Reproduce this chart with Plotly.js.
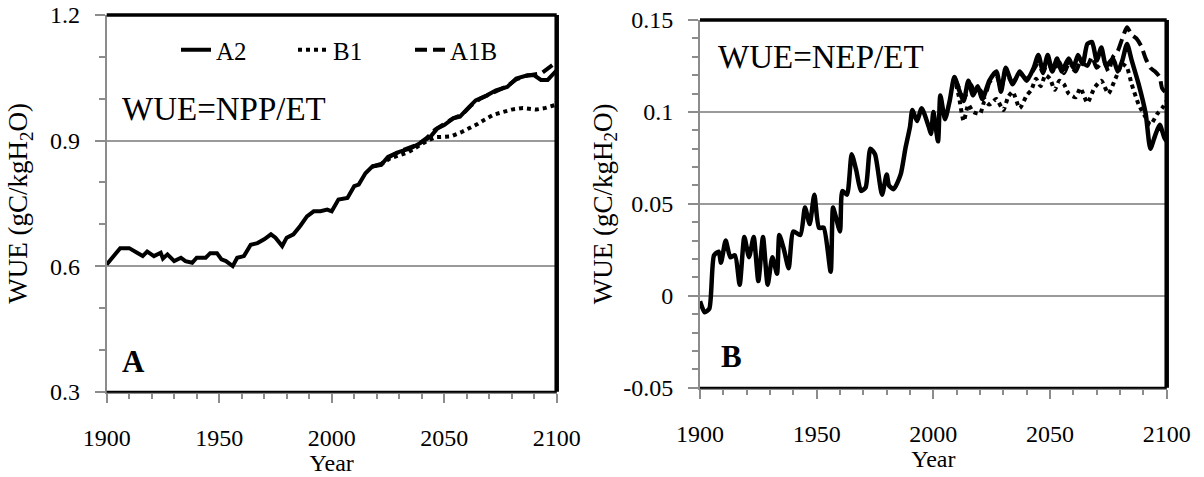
<!DOCTYPE html>
<html>
<head>
<meta charset="utf-8">
<script src="https://cdn.plot.ly/plotly-3.0.1.min.js"></script>
<style>html,body{margin:0;padding:0;background:#fff;}#chart{width:1204px;height:477px;}</style>
</head>
<body>
<div id="chart"></div>
<script>
// ---------- Panel A : WUE = NPP/ET ----------
const yearsA2_A = [1900,1903,1906,1910,1912,1916,1918,1921,1924,1925,1927,1930,1933,1935,1938,1940,1944,1946,1949,1951,1953,1956,1958,1961,1964,1967,1970,1973,1975,1978,1980,1983,1986,1989,1992,1995,1998,2000,2003,2007,2010,2012,2015,2018,2022,2025,2030,2035,2039,2044,2047,2050,2054,2057,2061,2064,2069,2073,2078,2082,2087,2090,2093,2096,2100];
const A2_A = [0.604,0.625,0.643,0.643,0.636,0.624,0.635,0.624,0.632,0.618,0.628,0.612,0.620,0.612,0.608,0.620,0.620,0.631,0.631,0.616,0.612,0.600,0.620,0.624,0.651,0.655,0.664,0.676,0.668,0.648,0.668,0.676,0.696,0.719,0.731,0.731,0.735,0.731,0.759,0.763,0.791,0.795,0.822,0.838,0.842,0.861,0.873,0.881,0.893,0.910,0.929,0.937,0.953,0.957,0.980,0.996,1.008,1.020,1.028,1.048,1.056,1.056,1.045,1.045,1.068];

const yearsB1_A = [2018,2022,2026,2030,2034,2038,2042,2046,2050,2053,2058,2062,2065,2068,2072,2076,2080,2085,2088,2091,2095,2100];
const B1_A = [0.838,0.843,0.858,0.866,0.872,0.885,0.898,0.908,0.908,0.910,0.921,0.931,0.940,0.950,0.962,0.968,0.974,0.978,0.976,0.974,0.978,0.986];

const yearsA1B_A = [2018,2022,2026,2030,2034,2038,2042,2046,2050,2054,2058,2062,2066,2070,2074,2078,2082,2086,2090,2093,2096,2100];
const A1B_A = [0.838,0.844,0.862,0.874,0.882,0.890,0.905,0.926,0.940,0.953,0.962,0.984,1.000,1.010,1.021,1.030,1.046,1.054,1.058,1.060,1.072,1.088];

// ---------- Panel B : WUE = NEP/ET ----------
const yearsA2_B = [1900,1902,1904,1906,1908,1909,1911,1913,1915,1917,1919,1921,1923,1925,1927,1929,1931,1933,1934,1936,1938,1940,1943,1945,1947,1949,1951,1953,1956,1957,1958,1960,1961,1963,1965,1967,1969,1971,1973,1975,1978,1980,1981,1983,1986,1988,1990,1991,1993,1995,1998,1999,2000,2002,2003,2005,2007,2009,2011,2013,2015,2017,2019,2021,2024,2027,2029,2031,2034,2037,2040,2043,2045,2047,2049,2051,2053,2055,2058,2060,2062,2064,2066,2068,2070,2072,2074,2077,2079,2081,2083,2085,2088,2091,2093,2095,2097,2099,2100];
const A2_B = [-0.003,-0.009,-0.007,0.022,0.024,0.018,0.030,0.021,0.022,0.006,0.032,0.021,0.032,0.008,0.032,0.006,0.021,0.012,0.033,0.025,0.015,0.035,0.033,0.048,0.039,0.055,0.037,0.037,0.013,0.048,0.044,0.035,0.057,0.055,0.077,0.068,0.057,0.059,0.080,0.077,0.055,0.066,0.060,0.058,0.066,0.080,0.092,0.101,0.095,0.102,0.092,0.088,0.100,0.084,0.109,0.096,0.106,0.119,0.112,0.106,0.117,0.109,0.114,0.107,0.117,0.122,0.111,0.124,0.115,0.122,0.117,0.124,0.131,0.122,0.131,0.122,0.129,0.122,0.129,0.124,0.131,0.126,0.137,0.138,0.128,0.135,0.125,0.129,0.122,0.128,0.137,0.128,0.115,0.099,0.080,0.087,0.093,0.086,0.084];

const yearsB1_B = [2009,2011,2013,2015,2017,2020,2022,2024,2027,2030,2032,2034,2037,2040,2042,2044,2046,2048,2050,2052,2054,2056,2058,2061,2063,2066,2069,2072,2075,2078,2081,2083,2085,2088,2091,2093,2096,2098,2100];
const B1_B = [0.119,0.108,0.095,0.104,0.100,0.099,0.106,0.104,0.107,0.101,0.108,0.111,0.102,0.109,0.112,0.118,0.114,0.120,0.118,0.112,0.117,0.115,0.110,0.108,0.113,0.105,0.113,0.117,0.110,0.118,0.126,0.124,0.115,0.104,0.097,0.093,0.099,0.102,0.106];

const yearsA1B_B = [2009,2011,2013,2016,2018,2020,2022,2024,2027,2029,2031,2034,2037,2040,2043,2045,2047,2049,2051,2054,2056,2058,2061,2063,2066,2068,2070,2073,2075,2077,2079,2081,2083,2085,2087,2089,2091,2093,2095,2097,2098,2100];
const A1B_B = [0.119,0.113,0.107,0.115,0.110,0.112,0.108,0.116,0.120,0.113,0.121,0.116,0.121,0.118,0.123,0.127,0.121,0.128,0.122,0.127,0.121,0.126,0.122,0.127,0.125,0.130,0.124,0.128,0.122,0.130,0.133,0.140,0.146,0.142,0.140,0.136,0.129,0.124,0.122,0.119,0.113,0.110];

// ---------- ticks / labels ----------
const xTickVals = [1900,1950,2000,2050,2100];
const xTickText = ['1900','1950','2000','2050','2100'];
const yTickValsA = [0.3,0.6,0.9,1.2];
const yTickTextA = ['0.3','0.6','0.9','1.2'];
const yTickValsB = [-0.05,0,0.05,0.1,0.15];
const yTickTextB = ['-0.05','0','0.05','0.1','0.15'];
const seriesNames = ['A2','B1','A1B'];
const yTitle = 'WUE (gC/kgH<sub>2</sub>O)';

const FONT = 'Times New Roman, Times, serif';
const GRAY = '#8c8c8c';

const traces = [
  {x: yearsA2_A, y: A2_A, name: seriesNames[0], type:'scatter', mode:'lines', xaxis:'x', yaxis:'y',
   line:{color:'#000', width:4}},
  {x: yearsB1_A, y: B1_A, name: seriesNames[1], type:'scatter', mode:'lines', xaxis:'x', yaxis:'y',
   line:{color:'#000', width:4, dash:'dot'}},
  {x: yearsA1B_A, y: A1B_A, name: seriesNames[2], type:'scatter', mode:'lines', xaxis:'x', yaxis:'y',
   line:{color:'#000', width:4, dash:'12px,6px'}},
  {x: yearsB1_B, y: B1_B, name: seriesNames[1], type:'scatter', mode:'lines', xaxis:'x2', yaxis:'y2', showlegend:false,
   line:{color:'#000', width:4, dash:'dot', shape:'spline', smoothing:0.6}},
  {x: yearsA1B_B, y: A1B_B, name: seriesNames[2], type:'scatter', mode:'lines', xaxis:'x2', yaxis:'y2', showlegend:false,
   line:{color:'#000', width:4, dash:'12px,6px', shape:'spline', smoothing:0.6}},
  {x: yearsA2_B, y: A2_B, name: seriesNames[0], type:'scatter', mode:'lines', xaxis:'x2', yaxis:'y2', showlegend:false,
   line:{color:'#000', width:4.5, shape:'spline', smoothing:0.6}}
];

function xAxis(domain, anchor){
  return {
    domain: domain, anchor: anchor, range:[1900,2100], tickmode:'array', tickvals:xTickVals, ticktext:xTickText,
    ticks:'outside', ticklen:9, tickwidth:2, tickcolor:GRAY, showline:true, linecolor:GRAY, linewidth:2,
    showgrid:false, zeroline:false, tickfont:{family:FONT, size:24, color:'#000'}, ticklabelstandoff:14,
    minor:{tickmode:'linear', tick0:1900, dtick:10, ticks:'outside', ticklen:5, tickwidth:2, tickcolor:GRAY, showgrid:false},
    title:{text:'Year', font:{family:FONT, size:24, color:'#000'}, standoff:2},
    automargin:false, fixedrange:true
  };
}
function yAxis(domain, anchor, range, vals, text, tick0, minorDt, standoff){
  return {
    domain: domain, anchor: anchor, range: range, tickmode:'array', tickvals: vals, ticktext: text,
    ticks:'outside', ticklen:10, tickwidth:2, tickcolor:GRAY, showline:true, linecolor:GRAY, linewidth:2,
    showgrid:true, gridcolor:'#9a9a9a', gridwidth:2, zeroline:false,
    tickfont:{family:FONT, size:24, color:'#000'}, ticklabelstandoff:10,
    minor:{tickmode:'linear', tick0:tick0, dtick:minorDt, ticks:'outside', ticklen:6, tickwidth:2, tickcolor:GRAY, showgrid:false},
    title:{text: yTitle, font:{family:FONT, size:27, color:'#000'}, standoff:standoff},
    automargin:false, fixedrange:true
  };
}

function frame(xr, yr){
  return [
    {type:'line', xref:xr+' domain', yref:yr+' domain', x0:0, x1:1, y0:1, y1:1, line:{color:'#000', width:3.5}},
    {type:'line', xref:xr+' domain', yref:yr+' domain', x0:1, x1:1, y0:0, y1:1, line:{color:'#000', width:4.5}},
    {type:'line', xref:xr+' domain', yref:yr+' domain', x0:0, x1:1, y0:0, y1:0, line:{color:'#000', width:2}}
  ];
}

const layout = {
  width:1204, height:477, margin:{l:0, r:0, t:0, b:0},
  paper_bgcolor:'#fff', plot_bgcolor:'#fff',
  font:{family:FONT, color:'#000'},
  showlegend:true,
  legend:{orientation:'h', x:176/1204, y:1-50/477, xanchor:'left', yanchor:'middle',
          font:{family:FONT, size:25, color:'#000'}, bgcolor:'rgba(0,0,0,0)', itemwidth:30,
          entrywidth:72, entrywidthmode:'pixels', tracegroupgap:0},
  xaxis: xAxis([106.7/1204, 556.7/1204], 'y'),
  yaxis: yAxis([1-391.7/477, 1-15/477], 'x', [0.3,1.2], yTickValsA, yTickTextA, 0.3, 0.1, 14),
  xaxis2: xAxis([700/1204, 1166.7/1204], 'y2'),
  yaxis2: yAxis([1-387.7/477, 1-20/477], 'x2', [-0.05,0.15], yTickValsB, yTickTextB, -0.05, 0.01, 3),
  annotations:[
    {xref:'paper', yref:'paper', x:120/1204, y:1-109/477, xanchor:'left', yanchor:'middle', showarrow:false,
     text:'WUE=NPP/ET', font:{family:FONT, size:33, color:'#000'}},
    {xref:'paper', yref:'paper', x:120/1204, y:1-361/477, xanchor:'left', yanchor:'middle', showarrow:false,
     text:'<b>A</b>', font:{family:FONT, size:31, color:'#000'}},
    {xref:'paper', yref:'paper', x:716/1204, y:1-57/477, xanchor:'left', yanchor:'middle', showarrow:false,
     text:'WUE=NEP/ET', font:{family:FONT, size:33, color:'#000'}},
    {xref:'paper', yref:'paper', x:719/1204, y:1-356/477, xanchor:'left', yanchor:'middle', showarrow:false,
     text:'<b>B</b>', font:{family:FONT, size:31, color:'#000'}}
  ],
  shapes: frame('x','y').concat(frame('x2','y2'))
};

Plotly.newPlot('chart', traces, layout, {displayModeBar:false, staticPlot:true});
</script>
</body>
</html>
